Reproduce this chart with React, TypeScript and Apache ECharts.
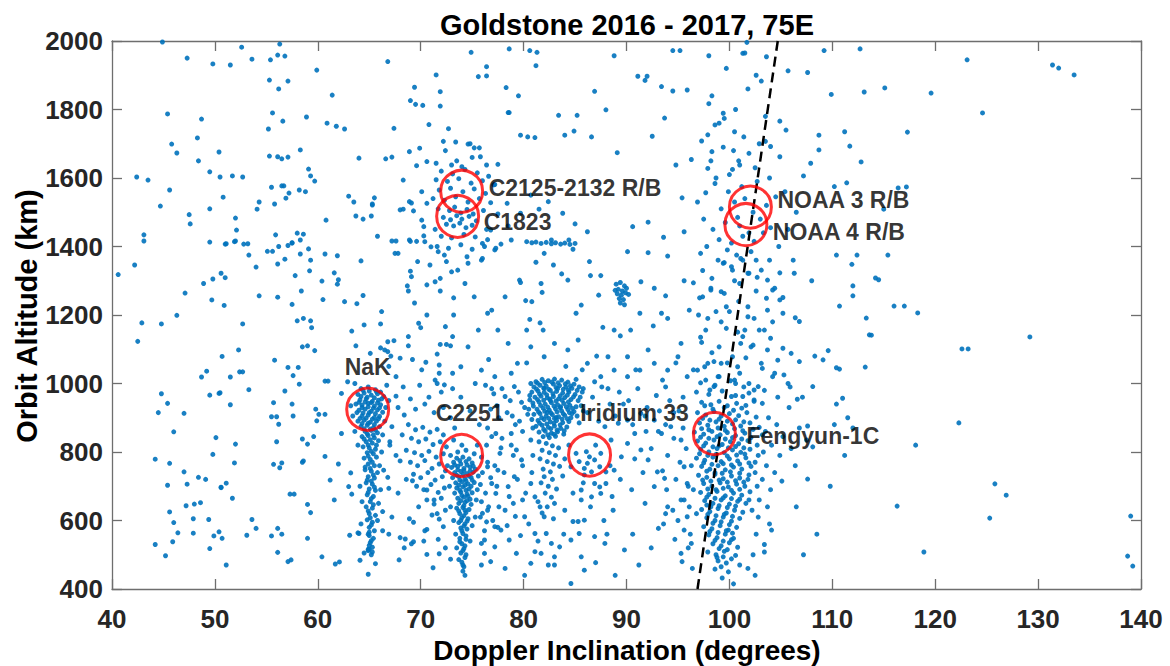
import React, { useEffect, useRef } from "react";
import * as echarts from "echarts";

type P = [number, number];

const xTicks = [40, 50, 60, 70, 80, 90, 100, 110, 120, 130, 140];
const yTicks = [400, 600, 800, 1000, 1200, 1400, 1600, 1800, 2000];

const bgUpperLeft: P[] = [
  [44.9,1997],[52.6,1982],[47.3,1950],[49.8,1933],[51.5,1930],[53.6,1947],[56.3,1991],[55.4,1945],[56.1,1959],[56.8,1956],
  [55.3,1886],[56.2,1860],[57.1,1883],[59.9,1915],[61.4,1842],[66.8,1940],[45.4,1787],[48.7,1772],[55.6,1790],[56.6,1766],
  [55.2,1743],[58.9,1778],[60.9,1760],[61.8,1751],[62.6,1743],[67.4,1745],[48.3,1717],[45.8,1699],[46.3,1673],[50.4,1676],
  [48.4,1650],[55.3,1664],[56.1,1662],[56.5,1656],[57.1,1661],[58.3,1682],[64.0,1658],[66.6,1656],[67.2,1661],[49.5,1618],
  [50.5,1603],[51.7,1606],[52.7,1603],[42.4,1603],[43.5,1594],[59.1,1626],[59.3,1606],[59.7,1591],[45.6,1565],[55.5,1573],
  [56.5,1577],[56.7,1577],[58.2,1565],[58.8,1560],[57.2,1556],[56.9,1541],[50.8,1544],[54.3,1530],[55.8,1524],[63.0,1547],
  [63.5,1530],[65.3,1524],[65.5,1542],[44.7,1518],[49.5,1510],[54.1,1509],[47.5,1493],[47.6,1466],[52.0,1483],[52.1,1448],
  [60.8,1477],[63.7,1489],[64.4,1480],[65.2,1489],[65.8,1430],[43.1,1434],[43.1,1416],[49.5,1413],[51.0,1407],[52.0,1416],
  [52.8,1407],[55.9,1434],[58.0,1439],[58.6,1436],[58.3,1419],[57.5,1410],[67.2,1416],[67.6,1416],[68.0,1507],[69.1,1527],
  [65.3,1521],[69.0,1415],[69.6,1415],[70.3,1431],[70.3,1458],[71.0,1399],[71.7,1385]
];

const bgMidLeft: P[] = [
  [42.2,1346],[40.6,1318],[47.1,1264],[48.9,1292],[49.8,1305],[50.6,1322],[51.0,1309],[49.7,1244],[50.9,1228],[54.0,1340],
  [54.3,1256],[56.1,1252],[56.1,1349],[56.8,1363],[57.8,1315],[58.4,1270],[57.5,1231],[59.2,1329],[59.3,1360],[60.4,1299],
  [60.5,1245],[61.6,1323],[62.0,1303],[61.9,1290],[62.6,1239],[63.8,1233],[64.4,1257],[64.2,1358],[60.7,1378],[61.9,1373],
  [55.1,1386],[55.6,1386],[56.2,1400],[57.1,1403],[57.5,1411],[58.3,1378],[59.1,1393],[53.3,1375],[53.2,1408],[51.9,1414],
  [51.1,1408],[67.5,1380],[67.8,1380],[69.7,1356],[69.0,1328],[69.1,1312],[68.7,1285],[68.8,1270],[69.4,1235],[70.9,1346],
  [70.6,1288],[71.4,1297],[71.9,1307],[71.9,1270],[72.5,1356],[73.0,1326],[73.2,1250],[73.2,1200],[70.6,1200],[69.8,1176],
  [70.0,1163],[68.8,1137],[68.8,1110],[68.0,1074],[70.5,1062],[71.6,1086],[72.4,1166],[72.5,1114],[71.9,1114],[72.9,1110],
  [73.1,1137],[71.8,1054],[71.8,1030],[71.4,1010],[72.3,996],[73.1,1030],[73.1,985],[64.5,1171],[66.1,1174],[66.2,1210],
  [63.3,1153],[63.7,1110],[65.1,1088],[66.1,1104],[66.5,1098],[66.8,1093],[67.4,1125],[66.8,1122],[67.1,1080],[58.5,1107],
  [59.0,1110],[59.7,1096],[58.0,1183],[58.6,1190],[59.3,1183],[59.4,1163],[52.7,1174],[52.3,1098],[50.7,1079],[49.2,1036],
  [48.7,1019],[51.5,1019],[52.4,1034],[52.7,1034],[55.8,1068],[57.1,1047],[58.1,1047],[57.6,1023],[58.2,998],[56.8,978],
  [53.3,982],[50.5,973],[44.8,970],[46.3,1199],[44.8,1174],[42.9,1177],[42.5,1123],[60.7,1007],[61.0,1007]
];

const bgLowerLeft: P[] = [
  [45.4,942],[44.5,915],[47.0,913],[46.0,859],[44.2,779],[45.6,767],[47.0,742],[45.4,703],[47.3,706],[48.4,726],
  [49.1,720],[47.2,643],[48.0,648],[48.6,652],[45.6,625],[46.0,594],[47.9,605],[49.4,603],[46.4,564],[47.9,563],
  [45.9,538],[44.2,530],[45.2,497],[49.5,518],[49.9,555],[50.4,567],[50.7,548],[51.1,470],[49.8,793],[50.1,842],
  [50.6,696],[51.1,709],[51.7,665],[51.9,768],[52.0,823],[51.5,938],[49.5,966],[50.4,971],[53.1,557],[53.6,603],
  [54.0,577],[55.5,555],[56.1,577],[56.5,560],[56.1,507],[57.1,480],[57.4,485],[55.7,944],[57.5,940],[57.6,905],
  [55.5,903],[56.0,903],[56.2,881],[56.0,830],[55.7,764],[56.3,754],[56.5,768],[57.3,677],[57.7,677],[58.5,838],
  [59.0,823],[59.6,845],[58.6,774],[58.5,770],[60.7,787],[59.0,647],[59.3,623],[59.0,548],[60.4,494],[61.7,473],
  [62.1,479],[61.2,718],[61.6,660],[62.0,765],[62.3,854],[59.8,925],[60.1,910],[60.7,910],[59.9,891],[63.2,739],
  [63.0,699],[63.1,557],[63.9,564],[64.1,484],[64.9,516],[65.0,516],[64.9,443],[65.0,556],[66.3,626],[66.9,694],
  [66.8,726],[66.4,747],[67.0,830],[67.0,820],[67.6,963],[67.2,874],[68.4,908],[68.0,774],[69.2,716],[69.3,595],
  [70.4,570],[68.0,550],[68.5,546],[69.1,532],[69.3,538],[67.9,485],[70.6,501],[71.2,462],[71.8,503],[72.9,487],
  [62.3,971],[50.6,697],[63.3,677],[64.0,562],[70.6,574],[71.3,660],[71.1,616],[71.8,604],[72.2,582],[70.6,689],
  [75.9,470],[76.2,504],[75.9,533],[76.4,596],[76.0,621],[77.5,580]
];

const bgUpperMid: P[] = [
  [74.9,1967],[78.6,1977],[80.6,1972],[81.3,1967],[81.2,1928],[88.8,1957],[94.5,1972],[95.2,1972],[98.0,1957],[101.7,1996],
  [101.3,1964],[101.5,1965],[103.6,1954],[109.2,1972],[105.7,1913],[107.6,1908],[109.9,1844],[103.1,1883],[76.4,1925],[75.6,1896],
  [76.4,1898],[71.5,1901],[69.4,1865],[71.9,1852],[78.3,1864],[79.5,1840],[69.0,1826],[69.5,1815],[70.2,1812],[71.9,1810],
  [78.5,1791],[78.6,1791],[86.9,1853],[88.0,1799],[91.1,1897],[91.8,1885],[92.0,1897],[93.4,1867],[94.5,1854],[95.9,1857],
  [98.0,1817],[93.7,1775],[99.4,1789],[99.5,1774],[98.6,1755],[100.5,1735],[104.9,1766],[105.5,1740],[108.7,1725],[111.2,1735],
  [70.8,1756],[72.7,1744],[72.2,1707],[73.4,1705],[74.6,1699],[75.2,1688],[75.7,1688],[79.7,1725],[80.4,1720],[81.1,1718],
  [84.0,1725],[84.9,1737],[86.6,1720],[83.4,1783],[85.2,1783],[89.1,1674],[92.5,1722],[97.3,1708],[97.9,1726],[98.3,1677],
  [100.4,1680],[101.9,1672],[103.5,1707],[104.0,1692],[104.9,1662],[108.7,1682],[96.3,1654],[94.8,1638],[97.9,1628],[100.3,1625],
  [101.0,1638],[102.5,1630],[107.2,1606],[111.4,1586],[107.9,1643],[110.2,1575],[98.6,1584],[97.7,1557],[95.4,1542],[95.6,1443],
  [92.1,1471],[93.6,1427],[90.6,1458],[86.2,1443],[85.0,1466],[84.4,1419],[82.7,1419],[83.8,1497],[82.4,1531],[81.5,1509],
  [80.7,1550],[79.7,1497],[78.4,1526],[77.5,1495],[78.5,1460],[76.8,1448],[78.8,1419],[77.2,1581],[76.4,1638],[75.8,1662],
  [74.0,1633],[73.0,1638],[71.5,1643],[70.6,1648],[69.6,1636],[68.9,1677],[69.9,1687],[68.3,1594],[68.9,1531],[70.1,1560],
  [69.3,1504],[68.3,1509],[70.6,1526],[70.1,1477],[68.9,1419],[70.4,1414]
];

const bgCenter: P[] = [
  [76.0,1409],[77.8,1407],[82.0,1380],[81.2,1354],[82.9,1346],[83.7,1320],[84.3,1302],[81.7,1292],[81.8,1266],[80.8,1239],
  [81.6,1177],[81.9,1156],[80.3,1156],[80.6,1187],[79.6,1302],[79.7,1295],[80.2,1242],[84.8,1392],[86.5,1315],[87.5,1315],
  [91.4,1297],[92.7,1278],[93.8,1256],[95.6,1300],[96.5,1294],[98.2,1278],[92.1,1382],[94.0,1372],[90.1,1385],[86.4,1356],
  [87.3,1258],[85.6,1229],[85.1,1205],[87.7,1164],[88.8,1156],[89.4,1139],[90.4,1156],[91.3,1205],[92.6,1168],[93.4,1205],
  [94.0,1190],[95.3,1117],[96.1,1214],[97.2,1135],[97.9,1190],[97.4,1253],[99.2,1268],[99.7,1224],[100.3,1331],[99.5,1353],
  [101.1,1365],[101.8,1322],[102.6,1360],[103.1,1331],[103.7,1302],[104.2,1273],[104.9,1244],[105.2,1205],[101.8,1224],[102.4,1190],
  [103.4,1156],[101.5,1156],[101.1,1117],[102.1,1107],[103.7,1098],[104.7,1068],[106.0,1088],[104.4,1030],[103.1,1059],[100.8,1049],
  [99.2,1059],[98.9,1020],[100.5,1010],[102.4,981],[98.5,991],[97.9,1059],[96.9,1039],[95.9,1020],[95.0,1078],[94.0,1039],
  [92.7,1059],[92.1,1098],[91.3,1039],[90.1,1078],[90.1,1020],[88.8,1039],[88.2,1078],[87.5,1020],[86.2,1059],[85.3,1127],
  [84.3,1098],[83.0,1117],[82.0,1078],[80.7,1107],[79.4,1059],[78.5,1117],[77.5,1156],[76.5,1205],[75.2,1253],[74.3,1292],
  [73.6,1331],[74.6,1351],[75.9,1360],[77.2,1390],[78.2,1253],[76.9,1214],[75.6,1156],[74.6,1107],[73.9,1049],[75.9,1039],
  [77.2,1020],[79.1,991],[85.8,985],[86.7,960],[87.6,990],[88.4,940],[89.3,975],[90.2,950],[91.1,985],[92.0,930],
  [92.9,965],[93.8,990],[94.6,915],[95.5,960],[86.2,915],[87.3,890],[88.9,905],[90.6,880],[91.8,905],[93.1,860],
  [76.3,995],[77.1,970],[77.9,985],[78.7,950],[79.5,975],[80.1,930],[76.8,925],[77.6,900],[78.4,915],[79.2,880],
  [79.9,860],[76.5,870],[77.9,840],[78.8,820]
];

const bgLowerMid: P[] = [
  [77.3,854],[77.7,796],[78.8,854],[79.3,806],[76.5,757],[77.5,747],[76.9,708],[77.3,679],[78.2,630],[76.5,630],
  [77.2,582],[77.8,572],[76.2,543],[77.2,523],[79.3,504],[81.1,509],[80.1,611],[79.9,660],[80.7,708],[81.1,669],
  [81.6,640],[82.0,611],[82.2,562],[82.7,533],[83.0,494],[82.4,470],[83.0,470],[84.6,416],[87.0,477],[84.8,597],
  [85.3,597],[85.9,601],[84.0,630],[85.6,660],[86.6,669],[87.5,679],[88.7,630],[88.0,708],[88.8,747],[89.5,786],
  [90.1,825],[90.8,854],[91.4,806],[92.1,777],[93.0,742],[93.7,723],[92.7,699],[94.0,640],[93.1,577],[89.8,514],
  [88.5,835],[87.9,874],[89.2,884],[90.1,893],[91.4,913],[92.7,893],[93.4,854],[94.3,874],[95.3,835],[95.6,757],
  [95.9,708],[95.6,660],[95.9,611],[95.6,572],[96.3,533],[95.3,504],[80.7,835],[79.8,777],[79.1,728],[78.5,699],
  [79.0,650],[78.6,543],[81.1,562],[83.5,523],[84.6,543],[85.4,562],[86.9,553],[87.9,533],[85.6,494],[81.7,504],
  [80.7,475],[86.1,801],[86.4,786],[85.4,772],[86.9,777],[87.4,757],[85.9,752],[86.6,742],[85.1,796],[87.5,796],
  [88.0,742],[84.6,757],[87.0,820],[86.2,767],[88.4,760],[85.9,733],[86.9,708],[85.6,689],[87.4,698]
];

const midFill: P[] = [
  [76.9,985],[78.2,962],[79.8,945],[77.4,935],[78.9,905],[79.6,890],[76.4,820],[77.8,812],[79.0,790],[79.9,760],
  [78.1,740],[79.4,720],[80.2,680],[78.6,670],[77.6,640],[79.2,612],[80.5,590],[78.4,585],[79.7,556],[81.4,540],
  [83.9,560],[84.8,680],[85.8,710],[86.5,640],[87.8,600],[88.6,670],[89.4,720],[90.5,690],[91.6,740],[90.8,780],
  [92.4,810],[91.9,860],[93.2,920],[89.7,940],[88.2,985],[86.9,1005],[90.9,1040],[93.5,1010],[94.8,1060],[87.1,1080],
  [85.7,1040],[84.1,1050],[80.3,1060],[78.8,1030],[76.6,1070],[75.3,1000],[73.9,960],[74.8,920],[72.9,900],[73.3,870],
  [75.7,880],[76.9,845],[70.1,1040],[69.2,1070],[67.6,1020],[66.9,1050],[68.3,990],[69.0,955],[67.8,930],[68.2,850],
  [67.6,790],[68.6,720],[67.8,680],[69.8,640],[68.9,605],[67.2,610],[66.9,560],[68.4,520],[70.3,540],[71.7,545],
  [72.4,520],[76.8,480],[78.2,460],[80.1,440],[85.9,455],[88.9,440],[91.2,470],[92.4,520],[90.6,560],[93.8,620],
  [91.8,650],[88.1,560]
];

const bgRight: P[] = [
  [112.7,1977],[123.1,1945],[131.4,1930],[132.0,1921],[133.5,1901],[113.1,1851],[115.1,1863],[119.6,1848],[124.6,1790],[117.3,1734],
  [111.7,1693],[112.8,1647],[116.4,1571],[117.2,1574],[115.0,1509],[112.4,1375],[115.4,1375],[114.2,1308],[114.5,1303],[112.0,1285],
  [112.0,1256],[116.0,1226],[117.0,1226],[118.3,1206],[129.2,1136],[122.6,1101],[123.2,1101],[113.3,1191],[113.6,1142],[113.2,1048],
  [110.7,1042],[110.4,1375],[122.3,885],[118.1,820],[116.3,642],[118.9,508],[125.8,707],[126.9,674],[125.3,607],[139.0,613],
  [138.7,496],[139.2,467],[107.6,876],[108.1,815],[107.6,721],[104.1,572],[103.4,508],[110.7,1226],[113.8,1141],[111.9,1348],
  [108.0,1300],[110.4,1046],[109.6,1096],[108.3,1080],[109.1,1069],[106.8,1064],[108.1,991],[106.6,954],[111.0,957],[110.4,940],
  [106.4,1192],[106.8,1181],[106.3,1322],[106.2,1360],[104.9,1323],[105.2,1251],[104.4,1278],[103.6,1249],[103.7,1214],[104.2,1180],
  [102.9,1156],[104.0,1132],[105.2,1103],[103.2,1044],[104.2,1020],[105.3,1025],[105.7,1000],[102.8,991],[101.3,962],[102.4,952],
  [103.2,942],[98.3,1307],[98.7,1210],[98.2,1273],[97.7,1156],[99.5,1263],[100.0,1210],[99.7,1161],[99.0,1107],[100.3,1078],
  [98.5,1064],[97.6,1049],[99.0,1020],[100.6,1000],[98.1,981],[100.2,962],[101.3,1360],[101.9,1322],[100.2,1341],[99.4,1351],
  [101.0,1292],[101.8,1195],[101.3,1137],[102.3,1112],[101.0,1030],[101.9,1000],[106.5,640],[108.5,560],[107.2,500],[109.8,700],
  [111.2,790],[110.2,880],[111.5,900],[112.0,870]
];

const nakCluster: P[] = [
  [64.2,985],[64.9,990],[65.6,982],[66.1,975],[63.9,968],[64.5,972],[65.2,966],[65.8,970],[66.4,962],[64.1,952],
  [64.7,955],[65.3,948],[65.9,951],[63.7,940],[64.3,937],[64.9,942],[65.5,934],[66.1,938],[64.0,922],[64.6,925],
  [65.2,919],[65.8,923],[66.3,916],[64.3,905],[64.9,908],[65.5,901],[66.0,904],[63.9,890],[64.5,893],[65.1,887],
  [65.7,890],[64.2,875],[64.8,878],[65.4,871],[66.0,874],[64.6,860],[65.2,863],[65.8,856],[64.3,845],[64.9,848],
  [65.5,841],[64.7,830],[65.3,826],[65.9,833],[64.4,815],[65.0,812],[65.6,808],[64.8,798],[65.4,795],[64.5,782],
  [65.1,778],[65.7,785],[64.9,765],[65.5,760],[64.6,748],[65.2,744],[65.8,740],[64.9,728],[65.5,724],[64.7,710],
  [65.3,706],[65.0,692],[65.6,688],[64.8,675],[65.4,670],[65.1,655],[64.7,640],[65.3,636],[65.0,620],[65.6,615],
  [64.8,602],[65.3,595],[65.0,580],[65.5,570],[64.9,560],[65.4,548],[65.1,535],[65.3,522],[64.9,512],[65.2,500],
  [63.6,1000],[66.7,995],[62.9,1005],[66.9,950],[63.2,935],[66.6,930],[63.4,905],[66.5,890],[63.6,860],[66.3,850],
  [66.2,800],[63.9,820],[66.0,760],[64.1,700],[66.1,690],[64.3,655],[65.9,650],[64.2,590],[65.8,600],[66.3,570]
];

const nakExtra: P[] = [
  [64.4,980],[65.0,978],[65.7,976],[64.2,962],[64.8,960],[65.5,958],[66.2,955],[64.0,945],[64.6,946],[65.2,944],
  [65.8,943],[64.3,930],[64.9,932],[65.4,928],[66.0,929],[63.8,915],[64.4,914],[65.0,915],[65.6,912],[64.1,898],
  [64.7,899],[65.3,896],[65.9,897],[64.3,883],[64.9,884],[65.5,880],[64.5,868],[65.1,867],[65.6,864],[64.8,853],
  [65.4,850],[64.5,838],[65.1,836],[65.7,820],[64.9,820],[65.2,802],[64.9,788],[65.3,770],[64.6,756],[65.1,752],
  [65.4,733],[64.8,718],[65.2,715],[65.5,697],[64.9,682],[65.2,664],[65.4,646],[64.9,628],[65.1,608],[65.2,587],
  [65.0,566],[65.2,541],[65.0,527],[65.3,508],[64.5,505],[65.6,474]
];

const c2251Cluster: P[] = [
  [73.2,770],[73.8,775],[74.4,772],[75.0,768],[73.0,755],[73.6,758],[74.2,752],[74.8,756],[75.3,750],[73.3,740],
  [73.9,743],[74.5,737],[75.1,741],[73.1,725],[73.7,728],[74.3,722],[74.9,726],[73.4,710],[74.0,713],[74.6,707],
  [75.2,711],[73.5,695],[74.1,698],[74.7,692],[73.3,680],[73.9,683],[74.5,677],[75.0,681],[73.6,665],[74.2,668],
  [74.8,662],[73.7,650],[74.3,653],[74.9,647],[73.5,636],[74.1,638],[74.7,632],[73.8,620],[74.4,623],[74.0,608],
  [74.6,605],[73.7,594],[74.3,590],[73.9,578],[74.5,575],[74.1,562],[73.8,548],[74.4,545],[74.0,532],[74.2,518],
  [73.9,505],[74.3,492],[74.0,478],[74.2,465],[74.1,452],[73.6,800],[74.4,805],[75.2,795],[72.9,790],[74.0,820],
  [75.5,820],[73.2,835],[72.6,760],[75.6,730],[72.8,700],[75.5,690],[75.4,660],[72.9,640],[75.3,610],[73.2,600],
  [75.0,585],[73.4,560],[74.8,540],[73.5,520]
];

const c2251Extra: P[] = [
  [73.5,782],[74.1,785],[74.7,780],[73.3,762],[73.9,765],[74.5,762],[75.1,759],[73.6,748],[74.2,746],[74.8,745],
  [73.5,732],[74.1,734],[74.7,730],[73.8,718],[74.4,716],[75.0,718],[73.7,703],[74.3,703],[74.9,700],[73.8,688],
  [74.4,688],[74.0,673],[74.6,671],[73.9,658],[74.5,658],[74.2,643],[73.7,628],[74.3,630],[74.2,614],[73.9,600],
  [74.5,598],[74.2,584],[74.0,570],[74.4,555],[73.8,538],[74.3,526],[74.1,512],[74.4,500],[73.7,486],[74.1,470],
  [74.3,440]
];

const c2251Halo: P[] = [
  [68.8,880],[69.5,865],[70.2,872],[70.9,858],[71.6,866],[72.2,850],[69.1,840],[69.8,830],[70.5,838],[71.2,822],
  [71.9,830],[72.5,815],[68.6,805],[69.4,798],[70.1,790],[70.8,802],[71.5,785],[72.2,795],[69.0,770],[69.7,760],
  [70.4,775],[71.1,752],[71.8,765],[72.4,745],[69.3,735],[70.0,725],[70.7,740],[71.4,718],[72.1,728],[69.6,700],
  [70.3,690],[71.0,705],[71.7,682],[72.3,695],[70.6,660],[71.3,648],[72.0,665],[71.6,620],[72.4,630],[75.9,785],
  [76.5,770],[77.2,760],[76.0,740],[76.8,725],[75.8,705],[76.3,680],[77.4,700],[75.9,655],[76.6,640],[77.0,600],
  [75.8,610],[76.2,570],[69.5,925],[70.4,940],[71.3,915],[72.2,930],[70.8,960],[72.0,975],[69.9,995],[71.6,1000]
];

const blob83: P[] = [
  [81.2,1005],[81.8,1012],[82.4,1008],[83.0,1013],[83.7,1010],[84.3,1004],[84.9,998],[81.0,990],[81.6,995],[82.2,992],
  [82.9,998],[83.5,994],[84.1,990],[84.7,986],[85.2,980],[80.8,975],[81.4,978],[82.0,974],[82.6,980],[83.2,977],
  [83.8,972],[84.4,975],[85.0,968],[81.1,960],[81.7,963],[82.3,958],[82.9,962],[83.4,955],[84.0,959],[84.6,953],
  [85.3,950],[80.9,943],[81.5,946],[82.1,940],[82.7,944],[83.3,938],[83.9,942],[84.5,936],[85.1,932],[81.3,925],
  [81.9,928],[82.5,922],[83.1,926],[83.7,920],[84.3,924],[84.9,918],[81.0,910],[81.6,912],[82.2,905],[82.8,909],
  [83.4,903],[84.0,907],[84.6,900],[81.4,892],[82.0,895],[82.6,888],[83.2,892],[83.8,886],[84.4,889],[81.2,875],
  [81.8,878],[82.4,872],[83.0,876],[83.6,869],[84.2,873],[81.5,858],[82.1,861],[82.7,855],[83.3,859],[83.9,852],
  [81.9,845],[82.5,842],[83.1,846],[80.6,952],[80.5,925],[85.5,960],[85.6,935],[85.4,990],[82.0,985],[83.3,985],
  [82.6,950],[83.6,932],[82.3,915],[83.0,898],[84.7,912],[80.8,895],[85.2,905]
];

const blob83Extra: P[] = [
  [81.35,1001],[82.05,1003],[82.75,1004],[83.35,1002],[84.05,999],[84.55,993],[81.25,984],[81.95,987],[82.45,983],[83.15,988],
  [83.85,983],[84.35,981],[81.55,969],[82.25,967],[82.85,970],[83.55,964],[84.25,966],[84.85,961],[81.35,953],[81.95,951],
  [82.55,955],[83.15,949],[83.75,951],[84.35,946],[80.95,934],[81.65,936],[82.35,931],[82.95,934],[83.55,929],[84.15,932],
  [84.75,927],[81.45,917],[82.05,919],[82.65,914],[83.25,917],[83.85,912],[84.45,915],[81.75,900],[82.45,898],[83.15,901],
  [83.75,896],[84.25,897],[81.55,884],[82.25,882],[82.95,884],[83.55,879],[81.95,866],[82.65,868],[83.25,864],[83.95,862],
  [82.35,850],[82.95,852],[80.7,1000],[85.1,1012],[80.6,965],[85.7,975],[85.8,920],[80.4,910],[85.4,885],[80.9,870]
];

const blob83Tail: P[] = [
  [81.5,830],[82.2,825],[82.8,818],[83.4,812],[81.8,805],[82.5,798],[83.1,790],[81.6,780],[82.3,772],[82.9,765],
  [83.5,758],[81.9,750],[82.6,742],[82.0,728],[82.8,720],[81.7,710],[82.4,700],[83.2,692],[82.1,680],[82.7,668],
  [81.4,655],[83.0,650],[82.3,640],[81.8,622],[82.9,605],[84.0,780],[80.9,790],[84.4,820],[80.8,740],[83.8,730]
];

const fengyunCluster: P[] = [
  [97.2,1002],[98.6,995],[100.1,1008],[101.4,990],[96.8,975],[98.0,968],[99.3,978],[100.6,965],[101.9,972],[97.3,945],
  [98.2,938],[99.0,948],[99.8,935],[100.7,942],[101.6,936],[102.4,948],[96.9,915],[97.7,908],[98.5,918],[99.2,905],
  [100.0,912],[100.9,906],[101.7,915],[102.6,902],[97.1,885],[97.9,878],[98.7,888],[99.5,875],[100.3,882],[101.1,876],
  [102.0,885],[102.9,872],[96.6,858],[97.5,852],[98.3,860],[99.1,850],[99.8,857],[100.6,848],[101.5,855],[103.2,850],
  [96.9,832],[97.7,826],[98.5,835],[99.3,822],[100.1,830],[100.9,824],[101.8,833],[102.7,820],[97.2,808],[98.0,800],
  [98.8,810],[99.5,798],[100.3,806],[101.1,799],[102.0,808],[96.8,782],[97.6,776],[98.4,785],[99.2,772],[100.0,780],
  [100.8,774],[101.6,783],[102.5,770],[97.3,758],[98.1,750],[98.9,760],[99.6,748],[100.4,756],[101.2,750],[102.1,758],
  [97.0,732],[97.8,726],[98.6,735],[99.4,722],[100.2,730],[101.0,724],[101.9,733],[97.5,708],[98.3,700],[99.1,710],
  [99.9,698],[100.7,706],[101.5,700],[97.2,682],[98.0,676],[98.8,685],[99.6,672],[100.4,680],[101.2,674],[102.0,684],
  [97.6,658],[98.4,650],[99.2,660],[100.0,648],[100.8,656],[101.6,650],[97.3,632],[98.1,626],[98.9,635],[99.7,622],
  [100.5,630],[101.3,624],[97.8,608],[98.6,600],[99.4,610],[100.2,598],[101.0,606],[97.5,582],[98.3,576],[99.1,585],
  [99.9,572],[100.7,580],[98.0,558],[98.8,550],[99.6,560],[100.4,548],[98.4,532],[99.2,526],[100.0,535],[100.8,522],
  [97.9,508],[98.7,500],[99.5,510],[100.6,498],[98.9,482],[99.7,476],[101.0,470],[98.6,458],[99.9,450],[99.3,432],
  [100.4,415]
];

const fengyunExtra: P[] = [
  [97.6,935],[98.4,925],[99.5,930],[100.4,922],[101.2,928],[97.4,898],[98.1,893],[99.0,896],[99.8,890],[100.6,894],
  [101.4,888],[97.3,868],[98.0,865],[98.9,870],[99.6,863],[100.5,868],[101.3,862],[102.3,866],[97.2,843],[98.0,840],
  [98.8,845],[99.6,838],[100.3,842],[101.2,838],[102.1,842],[97.5,818],[98.4,815],[99.0,818],[99.9,812],[100.6,816],
  [101.4,812],[97.1,795],[97.9,790],[98.7,793],[99.8,788],[100.7,791],[101.5,794],[97.5,768],[98.3,764],[99.4,766],
  [100.2,762],[101.0,765],[101.9,768],[97.8,744],[98.6,740],[99.3,738],[100.1,742],[101.0,738],[97.4,718],[98.2,715],
  [99.0,718],[99.8,712],[100.6,716],[101.4,712],[97.9,692],[98.7,690],[99.4,694],[100.2,688],[101.0,691],[97.8,668],
  [98.6,665],[99.4,666],[100.2,664],[101.0,662],[98.2,640],[99.0,643],[99.8,638],[100.6,642],[97.9,618],[98.7,614],
  [99.5,618],[100.3,612],[98.4,592],[99.2,596],[100.0,588],[98.1,568],[98.9,565],[99.7,570],[100.3,563],[98.6,542],
  [99.4,540],[100.2,544],[99.0,518],[99.8,515],[98.8,492],[99.4,494],[100.2,488],[99.2,465],[97.8,645],[101.8,720],
  [101.9,660],[96.3,760],[96.5,690],[96.8,620],[102.8,790],[102.5,740],[102.7,700],[102.2,630]
];

const fengyunHalo: P[] = [
  [94.2,950],[95.1,920],[93.8,880],[95.5,870],[94.6,840],[95.8,810],[94.0,790],[95.2,770],[93.5,745],[94.8,720],
  [96.0,700],[93.9,690],[95.3,660],[94.5,630],[96.1,640],[95.0,600],[93.6,590],[96.2,560],[94.7,545],[96.0,520],
  [95.4,480],[96.4,460],[103.8,900],[104.6,880],[103.5,860],[105.2,845],[104.1,820],[103.3,800],[104.9,790],[106.0,810],
  [103.6,760],[104.4,740],[103.2,720],[105.1,715],[104.0,690],[102.9,660],[103.7,640],[102.8,610],[103.9,590],[102.6,560],
  [103.4,530],[102.3,500],[101.8,460],[102.5,440],[106.8,870],[107.5,835],[106.4,760],[105.8,930],[104.7,960],[103.4,980],
  [105.9,990],[107.1,960]
];

const noaaCluster: P[] = [
  [99.0,1420],[100.2,1410],[101.3,1430],[102.4,1415],[103.3,1440],[98.4,1450],[99.6,1470],[100.8,1485],[103.0,1480],[104.0,1455],
  [99.2,1510],[100.5,1530],[103.6,1520],[104.5,1545],[99.9,1560],[101.2,1575],[102.7,1590],[98.7,1600],[100.0,1610],[103.9,1600],
  [101.5,1540],[102.3,1500],[101.0,1460],[101.9,1440],[99.8,1390],[97.8,1400],[104.8,1400],[105.7,1450],[106.5,1500],[105.4,1560],
  [97.5,1480],[96.9,1530],[98.2,1650],[99.4,1690],[101.4,1720],[99.0,1760],[100.6,1800],[98.3,1840],[101.8,1860],[102.6,1900],
  [99.7,1920],[100.9,1650],[102.9,1700],[103.5,1780],[97.2,1380],[98.9,1360],[100.7,1375],[102.1,1385],[103.9,1360],[97.4,1330],
  [100.5,1300],[102.7,1310],[97.1,1250],[100.9,1240],[102.6,1270],[97.0,1200],[99.2,1180],[100.8,1150],[97.3,1120],[98.3,1090],
  [99.8,1060],[101.6,1075],[96.5,1040],[97.7,1010]
];

const c1823Cluster: P[] = [
  [72.0,1620],[73.1,1612],[74.3,1625],[75.5,1615],[76.6,1605],[71.5,1595],[72.6,1590],[73.7,1598],[74.9,1585],[76.0,1592],
  [77.1,1580],[71.8,1565],[72.9,1570],[74.1,1560],[75.2,1568],[76.3,1555],[71.2,1540],[72.3,1535],[73.4,1545],[74.6,1530],
  [75.7,1540],[76.8,1528],[71.7,1510],[72.8,1505],[73.3,1515],[73.9,1498],[74.5,1508],[75.1,1495],[76.1,1505],[72.2,1485],
  [72.9,1478],[73.5,1490],[74.0,1480],[74.7,1488],[75.4,1475],[72.5,1465],[73.2,1460],[73.8,1468],[74.4,1455],[75.0,1462],
  [71.4,1450],[76.4,1450],[72.0,1430],[73.0,1425],[74.2,1435],[75.3,1428],[76.5,1420],[71.6,1400],[72.7,1395],[73.9,1405],
  [75.0,1392],[76.2,1400],[77.3,1395],[72.3,1375],[74.5,1370],[76.0,1365],[73.5,1650],[75.0,1660],[77.5,1640],[72.4,1680],
  [74.8,1700]
];

const line1410: P[] = [
  [80.3,1414],[80.8,1411],[81.2,1413],[81.7,1409],[82.2,1412],[82.7,1408],[83.1,1411],[83.6,1407],[84.0,1410],[84.5,1406],[85.0,1409]
];

const blob895: P[] = [
  [89.0,1290],[89.4,1295],[89.8,1285],[89.2,1275],[89.6,1270],[90.0,1278],[89.1,1262],[89.5,1258],[89.9,1265],[89.3,1248],
  [89.7,1245],[89.4,1235],[89.8,1230],[88.9,1272],[90.2,1260]
];

const circleNames = ["NaK", "C2251", "Iridium 33", "Fengyun-1C", "C2125-2132 R/B", "C1823", "NOAA 3 R/B", "NOAA 4 R/B"];
const circleX = [64.85, 73.98, 86.41, 98.54, 73.98, 73.59, 102.04, 101.6];
const circleY = [925, 790, 791, 854, 1561, 1488, 1515, 1464];

const dashX = [96.9, 104.7];
const dashY = [400, 2000];

// label placement (style only): [align, dx, dy]
const labelPlace: [string, number, number][] = [
  ["center", 0, -42], ["center", 8, -42], ["center", 45, -42], ["left", 32, 2],
  ["left", 27, -3], ["left", 26, 6], ["left", 27, -7], ["left", 27, 7],
];

const FONT = "Arial, 'Liberation Sans', Helvetica, sans-serif";

export default function App() {
  const ref = useRef<HTMLDivElement>(null);
  useEffect(() => {
    if (!ref.current) return;
    const chart = echarts.init(ref.current, undefined, { renderer: "svg" });
    const points = [
      ...bgUpperLeft, ...bgMidLeft, ...bgLowerLeft, ...bgUpperMid, ...bgCenter, ...bgLowerMid, ...midFill, ...bgRight,
      ...nakCluster, ...nakExtra, ...c2251Cluster, ...c2251Extra, ...c2251Halo, ...blob83, ...blob83Extra, ...blob83Tail,
      ...fengyunCluster, ...fengyunExtra, ...fengyunHalo, ...noaaCluster, ...c1823Cluster, ...line1410, ...blob895,
    ];
    const axisLineStyle = { color: "#6e6e6e", width: 1.3 };
    const tickStyle = { show: true, inside: true, length: 10, lineStyle: { color: "#6e6e6e", width: 1.3 } };
    const labelStyle = { color: "#262626", fontWeight: "bold" as const, fontSize: 26, lineHeight: 26, fontFamily: FONT };
    chart.setOption({
      animation: false,
      backgroundColor: "#ffffff",
      grid: { left: 112, right: 29, top: 41, bottom: 77, containLabel: false },
      xAxis: [
        {
          type: "value", min: xTicks[0], max: xTicks[xTicks.length - 1], interval: 10, position: "bottom",
          axisLine: { show: true, onZero: false, lineStyle: axisLineStyle },
          axisTick: tickStyle, splitLine: { show: false },
          axisLabel: { ...labelStyle, margin: 17, formatter: (v: number) => String(v) },
        },
        {
          type: "value", min: xTicks[0], max: xTicks[xTicks.length - 1], interval: 10, position: "top",
          axisLine: { show: true, onZero: false, lineStyle: axisLineStyle },
          axisTick: tickStyle, splitLine: { show: false }, axisLabel: { show: false },
        },
      ],
      yAxis: [
        {
          type: "value", min: yTicks[0], max: yTicks[yTicks.length - 1], interval: 200, position: "left",
          axisLine: { show: true, onZero: false, lineStyle: axisLineStyle },
          axisTick: tickStyle, splitLine: { show: false },
          axisLabel: { ...labelStyle, margin: 9, formatter: (v: number) => String(v) },
        },
        {
          type: "value", min: yTicks[0], max: yTicks[yTicks.length - 1], interval: 200, position: "right",
          axisLine: { show: true, onZero: false, lineStyle: axisLineStyle },
          axisTick: tickStyle, splitLine: { show: false }, axisLabel: { show: false },
        },
      ],
      graphic: [
        {
          type: "text", x: 627, y: 25,
          style: { text: "Goldstone 2016 - 2017, 75E", fill: "#000", font: `bold 29px ${FONT}`, textAlign: "center", textVerticalAlign: "middle" },
        },
        {
          type: "text", x: 627, y: 650,
          style: { text: "Doppler Inclination (degrees)", fill: "#000", font: `bold 28px ${FONT}`, lineHeight: 28, textAlign: "center", textVerticalAlign: "middle" },
        },
        {
          type: "text", x: 27, y: 316, rotation: Math.PI / 2,
          style: { text: "Orbit Altitude (km)", fill: "#000", font: `bold 29px ${FONT}`, textAlign: "center", textVerticalAlign: "middle" },
        },
      ],
      series: [
        {
          type: "scatter", xAxisIndex: 0, yAxisIndex: 0, data: points, symbol: "circle", symbolSize: 5,
          itemStyle: { color: "#0072BD", opacity: 0.9 }, silent: true, large: false,
        },
        {
          type: "line", xAxisIndex: 0, yAxisIndex: 0, data: dashX.map((x, i) => [x, dashY[i]]), symbol: "none",
          lineStyle: { color: "#000", width: 2.5, type: [10, 6] }, silent: true, z: 3,
        },
        {
          type: "scatter", xAxisIndex: 0, yAxisIndex: 0, symbol: "circle", symbolSize: 42, z: 4,
          itemStyle: { color: "rgba(0,0,0,0)", borderColor: "#ff0000", borderWidth: 3 },
          data: circleNames.map((name, i) => ({
            name, value: [circleX[i], circleY[i]],
            label: {
              show: true, position: "inside", formatter: name, align: labelPlace[i][0],
              verticalAlign: "middle", offset: [labelPlace[i][1], labelPlace[i][2]],
              color: "#000", fontWeight: "bold", fontSize: 23, fontFamily: FONT,
            },
          })),
        },
      ],
    });
    return () => chart.dispose();
  }, []);
  return <div ref={ref} style={{ position: "fixed", left: 0, top: 0, width: 1170, height: 666, background: "#fff" }} />;
}
